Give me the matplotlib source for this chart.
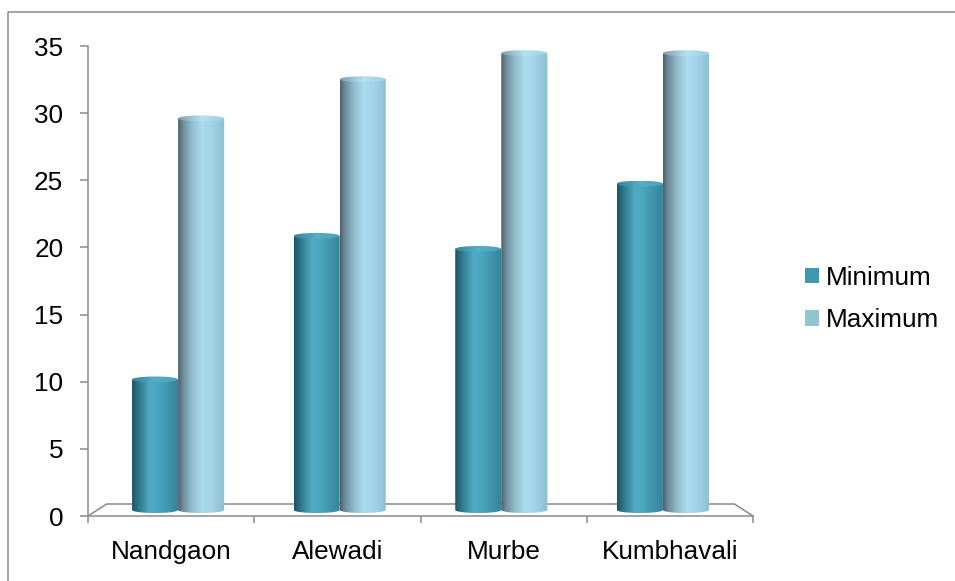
import numpy as np
import matplotlib
matplotlib.use("Agg")
import matplotlib.pyplot as plt
from matplotlib.colors import LinearSegmentedColormap
from matplotlib.patches import Ellipse, Patch, PathPatch
from matplotlib.path import Path
from matplotlib.lines import Line2D

# Temperature range per village
villages = ["Nandgaon", "Alewadi", "Murbe", "Kumbhavali"]
minimum = [10, 21, 20, 25]
maximum = [30, 33, 35, 35]
series_names = ["Minimum", "Maximum"]
y_ticks = [0, 5, 10, 15, 20, 25, 30, 35]

W, H, DPI = 955, 581, 100
plt.rcParams['font.family'] = ['Liberation Sans', 'DejaVu Sans']
FS = 18.8
GRAY = '#8a8a8a'

fig = plt.figure(figsize=(W / DPI, H / DPI), dpi=DPI)


def px_rect(left, right, bottom, top):
    """Axes rectangle from pixel edges (y measured from the top of the image)."""
    return [left / W, 1 - bottom / H, (right - left) / W, (bottom - top) / H]


# Front plane of the 3-D box carries the value axis; bars stand half-way back.
FRONT = (88.0, 753.0, 516.0, 46.0)
CX = (FRONT[0] + FRONT[1]) / 2


def plane(scale, base):
    left = CX + (FRONT[0] - CX) * scale
    right = CX + (FRONT[1] - CX) * scale
    top = base - (FRONT[2] - FRONT[3]) * scale
    return (left, right, base, top)


BACK = plane(0.944, 504.0)
MID = plane(0.972, 510.0)

ax = fig.add_axes(px_rect(*FRONT))
ax.set_facecolor('none')
ax.set_xlim(0, len(villages))
ax.set_ylim(y_ticks[0], y_ticks[-1])
for s in ('top', 'right'):
    ax.spines[s].set_visible(False)
for s in ('left', 'bottom'):
    ax.spines[s].set_color(GRAY)
    ax.spines[s].set_linewidth(1.1)

ax.set_yticks(y_ticks)
ax.set_yticklabels([str(t) for t in y_ticks])
ax.tick_params(axis='y', direction='out', length=5.8, width=1.1, color=GRAY,
               pad=12, labelsize=FS)
ax.set_xticks(np.arange(len(villages) + 1))
ax.set_xticklabels([])
ax.tick_params(axis='x', which='major', direction='out', length=5.0, width=1.1, color=GRAY)
ax.set_xticks(np.arange(len(villages)) + 0.5, minor=True)
ax.set_xticklabels(villages, minor=True)
ax.tick_params(axis='x', which='minor', length=0, pad=17.5, labelsize=FS)

# floor of the box: back edge and the two side edges
fx = [FRONT[0], BACK[0], BACK[1], FRONT[1]]
fy = [FRONT[2], BACK[2], BACK[2], FRONT[2]]
ax.add_line(Line2D(np.array(fx) / W, 1 - np.array(fy) / H, transform=fig.transFigure,
                   color=GRAY, lw=1.1, clip_on=False, solid_joinstyle='miter'))

# bars live on the mid-depth plane
axb = fig.add_axes(px_rect(*MID), zorder=2)
axb.set_facecolor('none')
axb.axis('off')

min_cmap = LinearSegmentedColormap.from_list('min_cyl', [
    (0.0, '#1d5263'), (0.12, '#2c7387'), (0.38, '#4faac3'), (0.55, '#4ca6be'),
    (0.8, '#3d93ab'), (1.0, '#338298')])
max_cmap = LinearSegmentedColormap.from_list('max_cyl', [
    (0.0, '#4c5f6a'), (0.1, '#6e8a99'), (0.3, '#91bdcd'), (0.52, '#acdcee'),
    (0.72, '#a2d3e6'), (1.0, '#8cbed1')])
min_cap = LinearSegmentedColormap.from_list('min_cap', ['#3a8397', '#56aec6', '#4aa0b7'])
max_cap = LinearSegmentedColormap.from_list('max_cap', ['#7c9fae', '#b6e1f1', '#a0cfe1'])

ELL = 3.0 / ((MID[2] - MID[3]) / (y_ticks[-1] - y_ticks[0]))  # ellipse half-height, data units
grad = np.linspace(0, 1, 256)[np.newaxis, :]


def cylinder(rect, body_cmap, cap_cmap):
    x0, w, h = rect.get_x(), rect.get_width(), rect.get_height()
    t = np.linspace(np.pi, 2 * np.pi, 60)
    bx = x0 + w / 2 + (w / 2) * np.cos(t)
    by = ELL * np.sin(t)
    verts = [(x0, h)] + list(zip(bx, by)) + [(x0 + w, h), (x0, h)]
    codes = [Path.MOVETO] + [Path.LINETO] * (len(verts) - 2) + [Path.CLOSEPOLY]
    clip = PathPatch(Path(verts, codes), transform=axb.transData, facecolor='none',
                     edgecolor='none')
    axb.add_patch(clip)
    im = axb.imshow(grad, extent=[x0, x0 + w, -ELL, h], aspect='auto', cmap=body_cmap,
                    interpolation='bilinear', zorder=3)
    im.set_clip_box(fig.bbox)
    im.set_clip_path(clip)
    cap = Ellipse((x0 + w / 2, h), w, 2 * ELL, transform=axb.transData,
                  facecolor='none', edgecolor='none')
    axb.add_patch(cap)
    imc = axb.imshow(grad, extent=[x0, x0 + w, h - ELL, h + ELL], aspect='auto',
                     cmap=cap_cmap, interpolation='bilinear', zorder=4)
    imc.set_clip_box(fig.bbox)
    imc.set_clip_path(cap)


bw = 0.285
pos = np.arange(len(villages)) + 0.5
bars_min = axb.bar(pos - bw / 2, minimum, bw, color='none')
bars_max = axb.bar(pos + bw / 2, maximum, bw, color='none')
for r in bars_min:
    cylinder(r, min_cmap, min_cap)
for r in bars_max:
    cylinder(r, max_cmap, max_cap)
axb.set_xlim(0, len(villages))
axb.set_ylim(y_ticks[0], y_ticks[-1])

# legend
handles = [Patch(facecolor='#3f97b0', edgecolor='none'),
           Patch(facecolor='#93c4d6', edgecolor='none')]
fig.legend(handles, series_names, loc='center left',
           bbox_to_anchor=(805 / W, 1 - 299 / H), frameon=False, fontsize=FS,
           handlelength=0.54, handleheight=0.54, handletextpad=0.25,
           labelspacing=0.72, borderpad=0, borderaxespad=0)

# chart frame
fig.add_artist(Line2D([7.5 / W, 7.5 / W, 1.01], [-0.01, 1 - 11.5 / H, 1 - 11.5 / H],
                      transform=fig.transFigure, color=GRAY, lw=1.1))

fig.savefig('out.png', dpi=DPI)
